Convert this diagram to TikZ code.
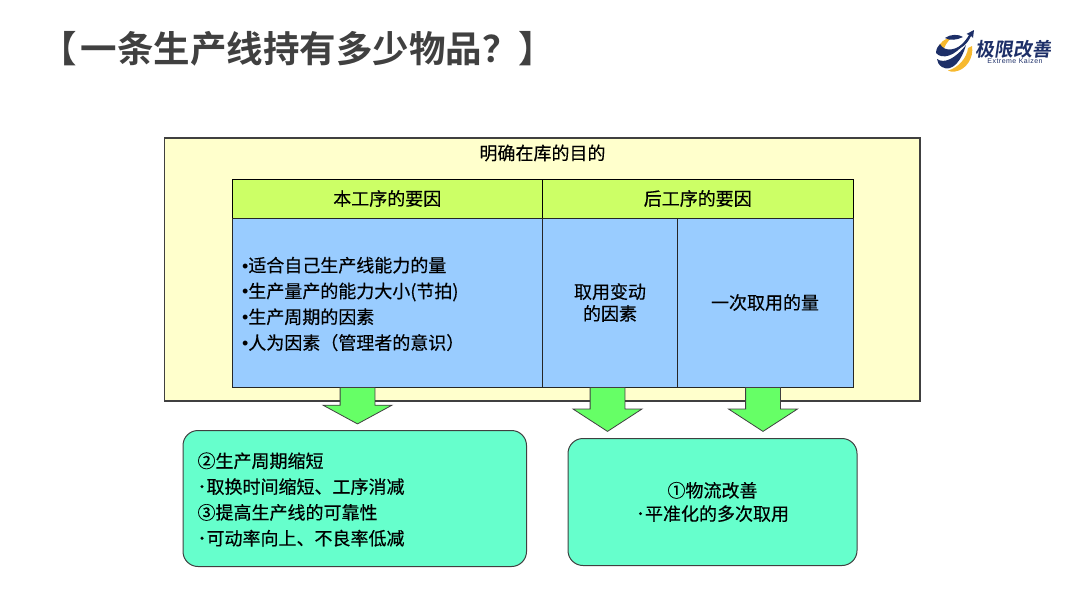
\documentclass[tikz,border=0pt]{standalone}
\usepackage{xcolor}
\usepackage{fontspec}
\setmainfont[FakeBold=0.35]{Noto Sans CJK SC}
\newfontfamily\latinfont{Liberation Sans}
\newfontfamily\titlefont{Noto Sans CJK SC Bold}
\newfontfamily\logofont[LetterSpace=7]{Liberation Sans}
\usetikzlibrary{shapes.arrows}
\definecolor{edgegray}{HTML}{404040}
\definecolor{outeryellow}{HTML}{FFFFCC}
\definecolor{headgreen}{HTML}{CCFF66}
\definecolor{cellblue}{HTML}{99CCFF}
\definecolor{arrowgreen}{HTML}{66FF66}
\definecolor{resultgreen}{HTML}{66FFCC}
\definecolor{logonavy}{HTML}{1D2F68}
\definecolor{logoyellow}{HTML}{F7B92F}
\newcommand{\listdot}{{\latinfont •}}
\tikzset{
  bodytext/.style={font=\fontsize{18}{25.8}\selectfont, text=black},
  headcell/.style={shape=rectangle, draw=black, line width=1pt, fill=headgreen, inner sep=0pt, bodytext},
  bluecell/.style={shape=rectangle, draw=black!85, line width=1pt, fill=cellblue, inner sep=0pt, bodytext, align=center},
  resultbox/.style={shape=rectangle, rounded corners=15pt, draw=edgegray, line width=1pt, fill=resultgreen, inner sep=0pt, bodytext},
  downarrow/.style={shape=single arrow, rotate=-90, anchor=tail, draw=edgegray, line width=0.8pt, fill=arrowgreen, inner xsep=0pt, inner ysep=17pt, minimum width=68pt, single arrow head extend=17pt}
}
\begin{document}
\begin{tikzpicture}[x=1pt, y=-1pt]
\useasboundingbox (0, 0) rectangle (1080, 608);

\node at (298, 48.5) [font=\titlefont\fontsize{36.5}{36.5}\selectfont, text=edgegray] (title) {【\hspace{4pt}一条生产线持有多少物品？】};

\node at (542.25, 269.5) [shape=rectangle, draw=edgegray, line width=1.2pt, fill=outeryellow, minimum width=755.5pt, minimum height=263pt, inner sep=0pt] (outer) {};
\node at (542.5, 153) [bodytext] (purpose) {明确在库的目的};

\node at (387.25, 198.5) [headcell, minimum width=310.5pt, minimum height=39pt] (headself) {本工序的要因};
\node at (697.75, 198.5) [headcell, minimum width=310.5pt, minimum height=39pt] (headnext) {后工序的要因};
\node at (387.25, 302.5) [bluecell, minimum width=310.5pt, minimum height=169pt] (cellself) {};
\node at (238.5, 304) [bodytext, anchor=west, align=left] (listself) {\listdot 适合自己生产线能力的量\\\listdot 生产量产的能力大小(节拍)\\\listdot 生产周期的因素\\\listdot 人为因素（管理者的意识）};
\node at (610, 302.5) [bluecell, minimum width=135pt, minimum height=169pt] (cellvary) {取用变动\\[-4pt]的因素};
\node at (765, 302.5) [bluecell, minimum width=176pt, minimum height=169pt] (cellonce) {一次取用的量};

\node at (182.5, 498.5) [resultbox, anchor=west, minimum width=343.5pt, minimum height=136pt] (resultleft) {};
\node at (194, 499.5) [bodytext, anchor=west, align=left] (textleft) {②生产周期缩短\\･取换时间缩短、工序消减\\③提高生产线的可靠性\\･可动率向上、不良率低减};
\node at (712.5, 502) [resultbox, minimum width=289pt, minimum height=127pt, align=center] (resultright) {①物流改善\\[-2.5pt]･平准化的多次取用};

\node at (357.5, 387) [downarrow, minimum height=36.5pt, single arrow tip angle=123] (arrowleft) {};
\node at (607.5, 387) [downarrow, minimum height=44pt, single arrow tip angle=114] (arrowmid) {};
\node at (763, 387) [downarrow, minimum height=44pt, single arrow tip angle=114] (arrowright) {};

\fill [logoyellow] (937, 50) .. controls (939, 43) and (945, 38) .. (952, 37) .. controls (948, 41) and (944, 46) .. (943, 52) -- cycle;
\fill [logoyellow] (972, 46) .. controls (974, 58) and (966, 70) .. (955, 71.5) .. controls (952, 72) and (950, 71.5) .. (948, 70.5) .. controls (958, 68) and (967, 58) .. (968, 48) -- cycle;
\fill [logonavy] (936, 53) .. controls (936, 49) and (938, 46) .. (940, 44) .. controls (945, 53) and (957, 50) .. (965, 42) .. controls (956, 56) and (942, 60) .. (936, 53) -- cycle;
\fill [logonavy] (937, 59) .. controls (944, 64) and (955, 59) .. (966, 45) .. controls (962, 60) and (952, 73) .. (942, 67) .. controls (939, 65) and (937, 62) .. (937, 59) -- cycle;
\fill [logonavy] (945, 38) .. controls (950, 34) and (959, 34) .. (963, 37) .. controls (957, 40) and (950, 41) .. (945, 38) -- cycle;
\fill [logonavy] (951, 51) .. controls (959, 48) and (965, 42) .. (969, 35) -- (966.5, 34) -- (974, 30) -- (973, 38) -- (971, 36) .. controls (967, 45) and (960, 50) .. (951, 51) -- cycle;
\node at (1015, 49) [font=\titlefont\fontsize{19}{19}\selectfont, text=logonavy, xslant=0.15, transform shape] (logoname) {极限改善};
\node at (1015, 61) [font=\logofont\fontsize{7}{7}\selectfont, text=logonavy] (logosub) {Extreme Kaizen};
\end{tikzpicture}
\end{document}
